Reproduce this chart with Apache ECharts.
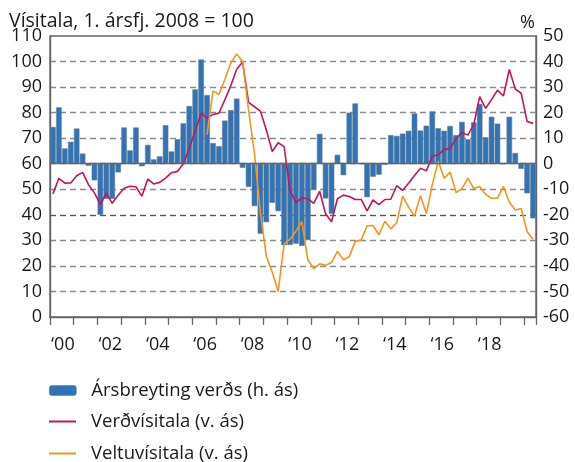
<!DOCTYPE html>
<html>
<head>
<meta charset="utf-8">
<script src="https://cdn.jsdelivr.net/npm/echarts@6/dist/echarts.min.js"></script>
<style>
  html, body { margin: 0; padding: 0; background: #fff; }
  #chart { width: 575px; height: 462px; }
</style>
</head>
<body>
<div id="chart"></div>
<script>
// ársfjórðungar 2000F1 - 2020F2
var quarters = [];
for (var y = 2000; y <= 2020; y++) {
  for (var q = 1; q <= 4; q++) quarters.push(y + 'F' + q);
}
quarters = quarters.slice(0, 82);

var yearLabels = ['\u201800', '\u201802', '\u201804', '\u201806', '\u201808',
                  '\u201810', '\u201812', '\u201814', '\u201816', '\u201818'];

// Ársbreyting verðs, % (h. ás)
var arsbreyting = [
  14.4, 22.1, 6.0, 8.6, 13.8, 4.0, -0.8, -6.5, -20.0, -13.8,
  -13.8, -3.4, 14.2, 5.2, 14.2, -1.0, 7.4, 1.7, 2.9, 15.1,
  4.8, 9.6, 15.8, 22.6, 29.1, 40.8, 26.9, 8.1, 6.9, 16.9,
  21.0, 25.5, -1.6, -9.1, -16.6, -27.4, -22.9, -15.3, -18.6, -31.9,
  -31.8, -31.3, -32.2, -29.9, -10.1, 11.7, -13.6, -19.6, 3.5, -4.5,
  20.0, 23.6, 0, -13.1, -5.1, -4.3, -0.4, 11.2, 10.9, 11.8,
  12.9, 19.7, 13.0, 14.9, 20.5, 13.9, 12.9, 14.8, 11.2, 16.4,
  9.6, 16.2, 23.4, 10.4, 18.4, 15.7, 0, 18.4, 4.2, -2.0,
  -11.6, -21.4
];

// Verðvísitala (v. ás)
var verdvisitala = [
  48.2, 54.3, 52.4, 52.5, 55.3, 56.6, 51.8, 48.6, 44.0, 48.5,
  44.5, 47.7, 50.4, 51.2, 51.0, 47.3, 54.0, 52.1, 52.7, 54.4,
  56.5, 57.0, 60.0, 66.0, 73.0, 79.8, 77.8, 79.3, 79.8, 85.0,
  90.5, 97.0, 99.8, 84.0, 82.3, 80.6, 73.2, 64.8, 68.2, 66.7,
  49.5, 44.8, 46.6, 46.3, 44.5, 49.2, 40.4, 37.3, 46.3, 47.7,
  47.2, 46.0, 46.0, 41.5, 45.8, 44.0, 46.0, 46.1, 51.4, 49.6,
  52.4, 55.4, 58.2, 57.2, 63.0, 63.4, 65.6, 65.8, 69.8, 72.2,
  71.2, 75.3, 86.3, 81.7, 85.1, 88.8, 86.5, 96.9, 89.2, 87.6,
  76.5, 75.8
];

// Veltuvísitala (v. ás), byrjar 2006F3
var veltuvisitala = [
  null, null, null, null, null, null, null, null, null, null,
  null, null, null, null, null, null, null, null, null, null,
  null, null, null, null, null, null, 71.4, 88.5, 87.1, 93.0,
  99.4, 103.0, 99.9, 81.0, 64.0, 41.0, 23.8, 17.5, 10.0, 28.6,
  30.5, 33.6, 37.3, 22.4, 18.9, 20.8, 20.2, 21.3, 25.7, 22.4,
  23.7, 29.6, 30.1, 35.7, 35.8, 32.1, 37.5, 34.5, 36.9, 47.3,
  43.0, 39.5, 47.5, 40.5, 51.8, 61.0, 54.3, 56.7, 48.7, 50.2,
  54.4, 50.3, 51.1, 48.0, 46.5, 46.5, 51.1, 45.0, 41.9, 42.5,
  33.4, 30.4
];

var font = 'Open Sans';
var txt = '#1a1a1a';
var axisCol = '#666';
var magenta = '#c4145e';
var orange = '#f7941d';

var chart = echarts.init(document.getElementById('chart'));

var legendBase = {
  left: 44, itemWidth: 27, itemHeight: 10,
  textStyle: { fontFamily: font, fontSize: 18.5, color: txt, padding: [0, 0, 0, 10] }
};

var option = {
  animation: false,
  textStyle: { fontFamily: font, color: txt },
  title: [
    { text: 'Vísitala, 1. ársfj. 2008 = 100', left: 4, top: 6,
      textStyle: { fontFamily: font, fontSize: 19.5, fontWeight: 'normal', color: txt } },
    { text: '%', left: 515, top: 9,
      textStyle: { fontFamily: font, fontSize: 18, fontWeight: 'normal', color: txt } }
  ],
  grid: {
    left: 50, right: 39, top: 36, height: 281,
    show: true, backgroundColor: 'transparent', borderColor: axisCol, borderWidth: 1.4
  },
  legend: [
    Object.assign({}, legendBase, { data: ['Ársbreyting verðs (h. ás)'], top: 376,
      itemStyle: { borderColor: '#6f7e8c', borderWidth: 0.6 } }),
    Object.assign({}, legendBase, { data: [{ name: 'Verðvísitala (v. ás)', icon: 'rect' }],
      top: 407, itemHeight: 2 }),
    Object.assign({}, legendBase, { data: [{ name: 'Veltuvísitala (v. ás)', icon: 'rect' }],
      top: 439, itemHeight: 2 })
  ],
  xAxis: {
    type: 'category',
    data: quarters,
    boundaryGap: true,
    axisLine: { onZero: false, lineStyle: { color: axisCol, width: 1.4 } },
    axisTick: {
      show: true, length: 8, inside: false,
      interval: function (i) { return i % 4 === 0; },
      lineStyle: { color: axisCol, width: 1.3 }
    },
    axisLabel: {
      interval: function (i) { return i % 8 === 1 && i < 80; },
      formatter: function (v, i) { return yearLabels[(i - 1) / 8]; },
      fontFamily: font, fontSize: 18, color: txt, margin: 19,
      padding: [0, 0, 0, 8]
    },
    splitLine: { show: false }
  },
  yAxis: [
    {
      type: 'value', min: 0, max: 110, interval: 10, position: 'left',
      axisLine: { show: true, lineStyle: { color: axisCol, width: 1.4 } },
      axisTick: { show: false },
      axisLabel: { fontFamily: font, fontSize: 18, color: txt, margin: 8 },
      splitLine: {
        show: true, showMinLine: false, showMaxLine: false,
        lineStyle: { color: '#8c8c8c', type: [6, 4], width: 1.3 }
      }
    },
    {
      type: 'value', min: -60, max: 50, interval: 10, position: 'right',
      axisLine: { show: true, lineStyle: { color: axisCol, width: 1.4 } },
      axisTick: { show: false },
      axisLabel: { fontFamily: font, fontSize: 18, color: txt, margin: 7 },
      splitLine: { show: false }
    }
  ],
  series: [
    {
      name: 'Ársbreyting verðs (h. ás)',
      type: 'bar',
      yAxisIndex: 1,
      data: arsbreyting,
      barCategoryGap: '6%',
      itemStyle: { color: '#3074b8', borderColor: '#6f7e8c', borderWidth: 0.6 },
      markLine: {
        silent: true, symbol: 'none', label: { show: false },
        lineStyle: { color: axisCol, type: 'solid', width: 1.3 },
        data: [{ yAxis: 0 }]
      }
    },
    {
      name: 'Verðvísitala (v. ás)',
      type: 'line',
      yAxisIndex: 0,
      data: verdvisitala,
      symbol: 'none',
      z: 3,
      lineStyle: { color: magenta, width: 1.6 },
      itemStyle: { color: magenta },
      markLine: {
        silent: true, symbol: 'none', label: { show: false }, z: 1,
        lineStyle: { color: '#555', type: [6, 4], width: 1.2 },
        data: [{ yAxis: 40 }]
      }
    },
    {
      name: 'Veltuvísitala (v. ás)',
      type: 'line',
      yAxisIndex: 0,
      data: veltuvisitala,
      symbol: 'none',
      z: 3,
      lineStyle: { color: orange, width: 1.6 },
      itemStyle: { color: orange }
    }
  ]
};

chart.setOption(option);
</script>
</body>
</html>
